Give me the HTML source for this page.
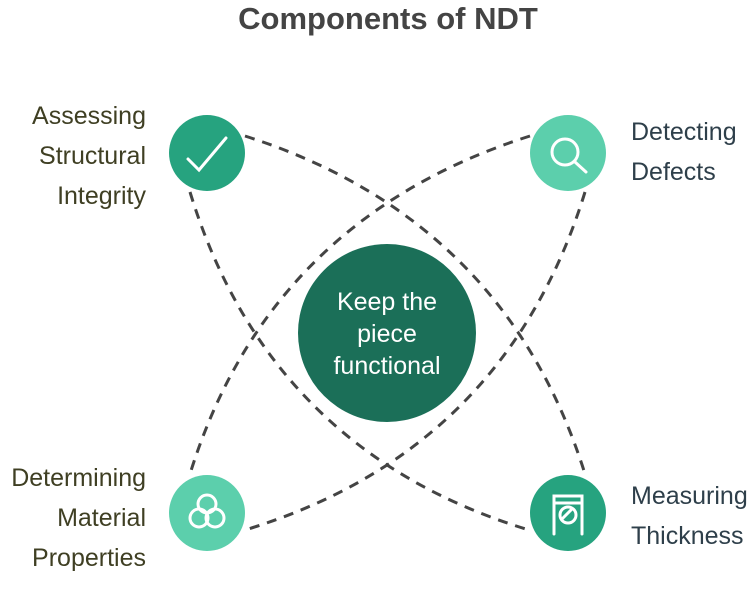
<!DOCTYPE html>
<html><head><style>
body{margin:0;width:754px;height:613px;background:#fff;overflow:hidden;font-family:"Liberation Sans",sans-serif}
.t{position:absolute;font-size:25px;line-height:40px}
.l{color:#3f3f23;text-align:right;right:608px}
.r{color:#2e3f4a;left:631px}
</style></head><body>
<div style="position:absolute;left:0;width:776px;top:1px;text-align:center;font-size:31px;font-weight:bold;color:#444">Components of NDT</div>
<div class="t l" style="top:96px">Assessing<br>Structural<br>Integrity</div>
<div class="t r" style="top:112px">Detecting<br>Defects</div>
<div class="t l" style="top:458px">Determining<br>Material<br>Properties</div>
<div class="t r" style="top:476px">Measuring<br>Thickness</div>
<svg width="754" height="613" style="position:absolute;left:0;top:0">
<g fill="none" stroke="#444" stroke-width="3" stroke-dasharray="10 8">
<path d="M245 136 Q505 219 585 474"/>
<path d="M190 192 Q269 451 529 530"/>
<path d="M530 136 Q269 219 190 474"/>
<path d="M585 192 Q505 451 245 530"/>
</g>
<circle cx="387" cy="333" r="89" fill="#1b6f58"/>
<g fill="#fff" font-size="25" text-anchor="middle" font-family="Liberation Sans">
<text x="387" y="310">Keep the</text>
<text x="387" y="342">piece</text>
<text x="387" y="374">functional</text>
</g>
<circle cx="207" cy="153" r="38" fill="#26a37f"/>
<circle cx="568" cy="153" r="38" fill="#5ccfac"/>
<circle cx="207" cy="513" r="38" fill="#5ccfac"/>
<circle cx="568" cy="513" r="38" fill="#26a37f"/>
<g fill="none" stroke="#fff" stroke-width="3" stroke-linecap="round">
<path d="M188 159 L199 170 L226 138"/>
<circle cx="565" cy="152" r="13"/><path d="M575 162 L586 172"/>
<circle cx="207" cy="504" r="9"/><circle cx="199" cy="518" r="9"/><circle cx="215" cy="518" r="9"/>
<path d="M554 534 V496 H582 V534 M554 503 H582"/><circle cx="568" cy="515" r="8"/><path d="M562 519 L572 509"/>
</g>
</svg>
</body></html>
